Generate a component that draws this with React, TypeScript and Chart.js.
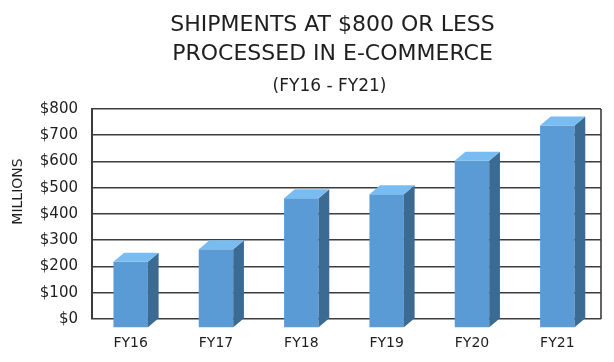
import React, { useEffect, useRef } from "react";
import { Chart, registerables } from "chart.js";

Chart.register(...registerables);

const categories = ["FY16", "FY17", "FY18", "FY19", "FY20", "FY21"];
const shipments = [252, 300, 494, 510, 637, 771];
const yTicks = [0, 100, 200, 300, 400, 500, 600, 700, 800];
const titleLines = ["SHIPMENTS AT $800 OR LESS", "PROCESSED IN E-COMMERCE"];
const subtitleLine = "(FY16 - FY21)";
const yAxisTitle = "MILLIONS";

const FONT = "'DejaVu Sans', sans-serif";
const DX = 10.7;
const DY = 9;
const GRID = "#3c3c3c";

const layoutPlugin = {
  id: "frontPlane",
  afterLayout(chart: any) {
    const x = chart.scales.x;
    x.left = chart.chartArea.left - 4;
    x.right = chart.chartArea.right - 1;
    x.width = x.right - x.left;
    x.configure();
  },
};

const bar3dPlugin = {
  id: "bar3d",
  beforeDatasetsDraw(chart: any) {
    const { ctx, chartArea } = chart;
    ctx.save();
    ctx.strokeStyle = GRID;
    ctx.lineWidth = 1.6;
    ctx.beginPath();
    ctx.moveTo(chartArea.right, chartArea.top);
    ctx.lineTo(chartArea.right, chartArea.bottom);
    ctx.stroke();
    ctx.restore();
    ctx.save();
    ctx.translate(0, DY);
  },
  afterDatasetsDraw(chart: any) {
    const { ctx } = chart;
    ctx.restore();
    const meta = chart.getDatasetMeta(0);
    meta.data.forEach((bar: any) => {
      const { x, y, base, width } = bar.getProps(["x", "y", "base", "width"], true);
      const left = x - width / 2;
      const right = x + width / 2;
      const top = y + DY;
      const bottom = base + DY;
      ctx.save();
      ctx.fillStyle = "#3b6a92";
      ctx.beginPath();
      ctx.moveTo(right, top);
      ctx.lineTo(right + DX, top - DY);
      ctx.lineTo(right + DX, bottom - DY);
      ctx.lineTo(right, bottom);
      ctx.closePath();
      ctx.fill();
      ctx.fillStyle = "#79bcf2";
      ctx.beginPath();
      ctx.moveTo(left, top);
      ctx.lineTo(left + DX, top - DY);
      ctx.lineTo(right + DX, top - DY);
      ctx.lineTo(right, top);
      ctx.closePath();
      ctx.fill();
      ctx.restore();
    });
  },
  afterDraw(chart: any) {
    const { ctx, chartArea } = chart;
    ctx.save();
    ctx.fillStyle = "#1e1e1e";
    ctx.textAlign = "center";
    ctx.textBaseline = "alphabetic";
    const cx = (chartArea.left + chartArea.right) / 2 - 14;
    ctx.font = `22px ${FONT}`;
    ctx.fillText(titleLines[0], cx, 23);
    ctx.fillText(titleLines[1], cx, 52);
    ctx.font = `17px ${FONT}`;
    ctx.fillText(subtitleLine, cx - 3, 83);
    ctx.translate(10, 183.5);
    ctx.rotate(-Math.PI / 2);
    ctx.textBaseline = "middle";
    ctx.font = `14px ${FONT}`;
    ctx.fillText(yAxisTitle, 0, 0);
    ctx.restore();
  },
};

export default function App() {
  const ref = useRef<HTMLCanvasElement | null>(null);
  useEffect(() => {
    if (!ref.current) return;
    const chart = new Chart(ref.current, {
      type: "bar",
      data: {
        labels: categories,
        datasets: [
          {
            data: shipments,
            backgroundColor: "#5b9bd5",
            borderWidth: 0,
            barPercentage: 0.404,
            categoryPercentage: 1,
            clip: false as any,
          },
        ],
      },
      options: {
        animation: false,
        responsive: true,
        maintainAspectRatio: false,
        layout: { padding: { top: 101, right: 5, bottom: 0, left: 0 } },
        plugins: {
          legend: { display: false },
          tooltip: { enabled: false },
          title: { display: false },
        },
        scales: {
          x: {
            grid: { display: false, drawTicks: false },
            border: { display: false },
            ticks: {
              color: "#1e1e1e",
              font: { family: FONT, size: 14 },
              padding: 16,
            },
            afterFit: (s: any) => {
              s.height = 35;
            },
          },
          y: {
            min: 0,
            max: 800,
            afterBuildTicks: (s: any) => {
              s.ticks = yTicks.map((v) => ({ value: v }));
            },
            grid: { color: GRID, lineWidth: 1.6, drawTicks: false },
            border: { display: true, color: GRID, width: 2 },
            ticks: {
              color: "#1e1e1e",
              font: { family: FONT, size: 15 },
              padding: 14,
              callback: (v: any) => "$" + v,
            },
            afterFit: (s: any) => {
              s.width = 84;
            },
          },
        },
      },
      plugins: [layoutPlugin, bar3dPlugin],
    });
    return () => chart.destroy();
  }, []);
  return (
    <div style={{ position: "relative", width: 598, height: 346 }}>
      <canvas ref={ref} />
    </div>
  );
}
